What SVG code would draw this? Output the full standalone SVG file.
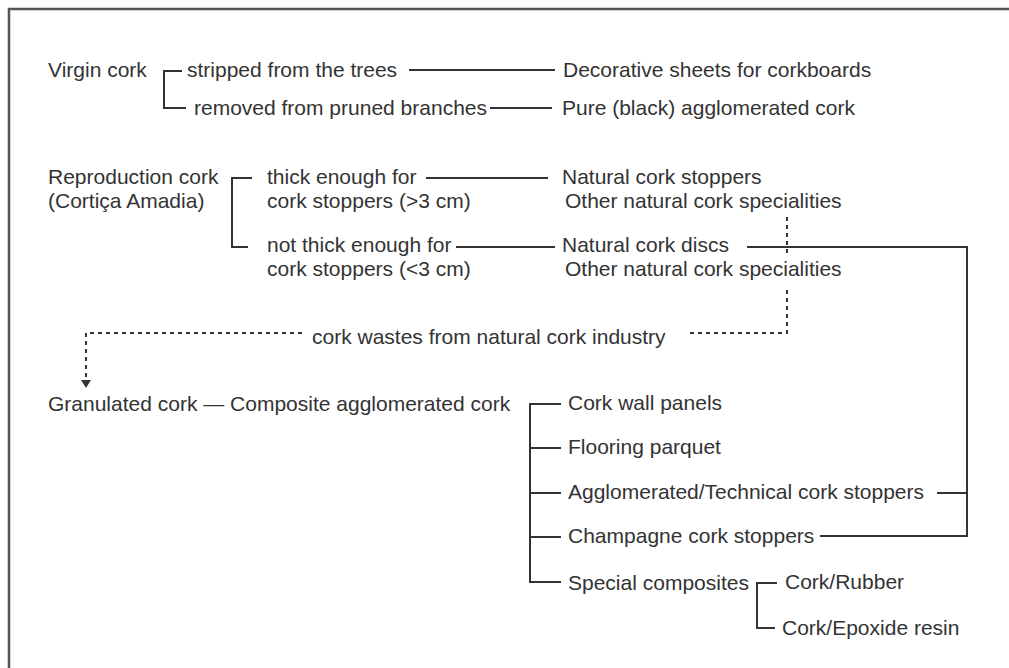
<svg xmlns="http://www.w3.org/2000/svg" width="1009" height="668" viewBox="0 0 1009 668">
<style>
text{font-family:"Liberation Sans",Arial,sans-serif;font-size:21px;fill:#333}
.ln{fill:none;stroke:#333;stroke-width:2}
.dt{fill:none;stroke:#333;stroke-width:2;stroke-dasharray:4 4}
</style>
<rect x="0" y="0" width="1009" height="668" fill="#fff"/>
<rect x="9" y="9" width="1100" height="800" fill="none" stroke="#555" stroke-width="2.5"/>
<g id="connectors">
<path class="ln" d="M182,71 H164 V108 H186"/>
<path class="ln" d="M409,70 H555"/>
<path class="ln" d="M490,108 H552"/>
<path class="ln" d="M252,178 H232 V247 H248"/>
<path class="ln" d="M426,178 H548"/>
<path class="ln" d="M456,247 H555"/>
<path class="ln" d="M747,247 H967 V536 H820"/>
<path class="ln" d="M937,493 H967"/>
<path class="dt" d="M787,217 V253"/>
<path class="dt" d="M787,290 V333 H687"/>
<path class="dt" d="M302,333 H86 V381"/>
<path d="M81,380 L91,380 L86,388 z" fill="#333"/>
<path class="ln" d="M561,404 H530 V582 H561 M530,448 H561 M530,493 H561 M530,537 H561"/>
<path class="ln" d="M777,583 H757 V628 H775"/>
</g>
<g id="virgin"><text x="48" y="77">Virgin cork</text></g>
<g id="stripped"><text x="187" y="77">stripped from the trees</text></g>
<g id="decorative"><text x="563" y="77">Decorative sheets for corkboards</text></g>
<g id="removed"><text x="194" y="115">removed from pruned branches</text></g>
<g id="pure"><text x="562" y="115">Pure (black) agglomerated cork</text></g>
<g id="reproduction"><text x="48" y="184">Reproduction cork<tspan x="48" dy="24">(Cortiça Amadia)</tspan></text></g>
<g id="thick"><text x="267" y="184">thick enough for<tspan x="267" dy="24">cork stoppers (&gt;3 cm)</tspan></text></g>
<g id="stoppers"><text x="562" y="184">Natural cork stoppers<tspan x="565" dy="24">Other natural cork specialities</tspan></text></g>
<g id="notthick"><text x="267" y="252">not thick enough for<tspan x="267" dy="24">cork stoppers (&lt;3 cm)</tspan></text></g>
<g id="discs"><text x="562" y="252">Natural cork discs<tspan x="565" dy="24">Other natural cork specialities</tspan></text></g>
<g id="wastes"><text x="312" y="344">cork wastes from natural cork industry</text></g>
<g id="granulated"><text x="48" y="411">Granulated cork — Composite agglomerated cork</text></g>
<g id="wall"><text x="568" y="410">Cork wall panels</text></g>
<g id="parquet"><text x="568" y="454">Flooring parquet</text></g>
<g id="technical"><text x="568" y="499">Agglomerated/Technical cork stoppers</text></g>
<g id="champagne"><text x="568" y="543">Champagne cork stoppers</text></g>
<g id="special"><text x="568" y="590">Special composites</text></g>
<g id="rubber"><text x="785" y="589">Cork/Rubber</text></g>
<g id="epoxide"><text x="782" y="635">Cork/Epoxide resin</text></g>
</svg>
